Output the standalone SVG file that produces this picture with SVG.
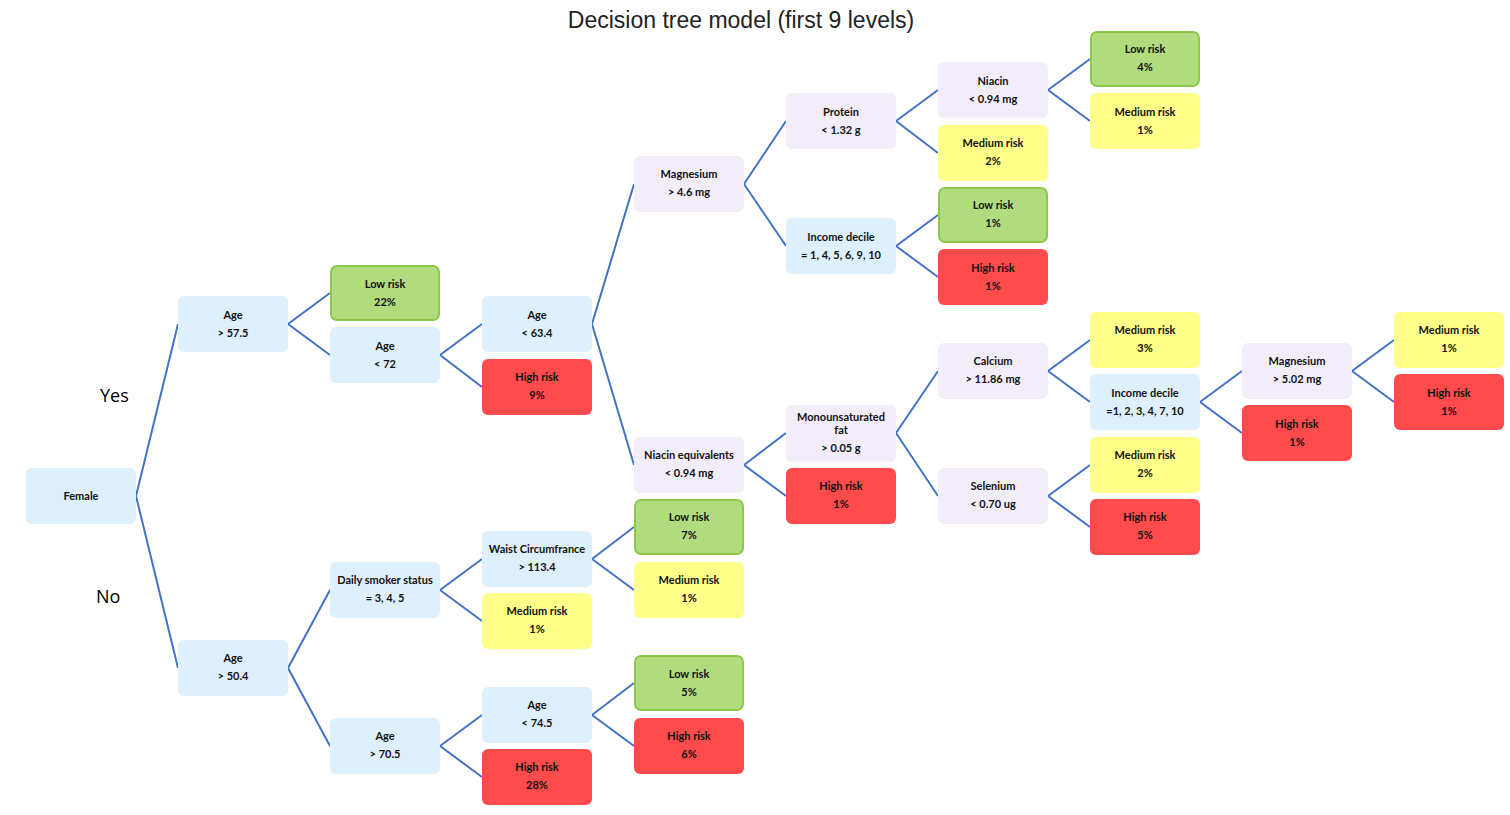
<svg xmlns="http://www.w3.org/2000/svg" width="1510" height="815" viewBox="0 0 1510 815">
<style>
.n rect{rx:6;ry:6}
.blue rect{fill:#DEF0FD}
.lav rect{fill:#F3EDFA}
.green rect{fill:#B0DC7E;stroke:#8CC84B;stroke-width:2}
.yel rect{fill:#FFFF8A}
.red rect{fill:#FF4B4B}
.n text{font-family:Lato,"Liberation Sans",sans-serif;font-weight:bold;font-size:11px;text-anchor:middle;fill:#111}
#connectors path{fill:none;stroke:#4472C4;stroke-width:2}
.lbl{font-family:"Open Sans","Liberation Sans",sans-serif;font-size:18px;fill:#000}
.title{font-family:"Liberation Sans",Arial,sans-serif;font-size:23px;fill:#222;text-anchor:middle}
</style>
<rect width="1510" height="815" fill="#fff"/>
<text class="title" x="741" y="28">Decision tree model (first 9 levels)</text>
<text class="lbl" x="100" y="402">Yes</text>
<text class="lbl" x="96" y="603">No</text>
<g id="connectors">
<path d="M136,496 L178,324 M136,496 L178,668"/>
<path d="M288,324 L330,293 M288,324 L330,355"/>
<path d="M440,355 L482,324 M440,355 L482,387"/>
<path d="M592,324 L634,184 M592,324 L634,465"/>
<path d="M744,184 L786,121 M744,184 L786,246"/>
<path d="M896,121 L938,90 M896,121 L938,153"/>
<path d="M1048,90 L1090,59 M1048,90 L1090,121"/>
<path d="M896,246 L938,215 M896,246 L938,277"/>
<path d="M744,465 L786,433 M744,465 L786,496"/>
<path d="M896,433 L938,371 M896,433 L938,496"/>
<path d="M1048,371 L1090,340 M1048,371 L1090,402"/>
<path d="M1200,402 L1242,371 M1200,402 L1242,433"/>
<path d="M1352,371 L1394,340 M1352,371 L1394,402"/>
<path d="M1048,496 L1090,465 M1048,496 L1090,527"/>
<path d="M288,668 L330,590 M288,668 L330,746"/>
<path d="M440,590 L482,559 M440,590 L482,621"/>
<path d="M592,559 L634,527 M592,559 L634,590"/>
<path d="M440,746 L482,715 M440,746 L482,777"/>
<path d="M592,715 L634,683 M592,715 L634,746"/>
</g>
<g id="female" class="n blue"><rect x="26" y="468" width="110" height="56"/><text x="81" y="500">Female</text></g>
<g id="age575" class="n blue"><rect x="178" y="296" width="110" height="56"/><text x="233" y="319">Age</text><text x="233" y="337">&gt; 57.5</text></g>
<g id="low22" class="n green"><rect x="331" y="266" width="108" height="54"/><text x="385" y="288">Low risk</text><text x="385" y="306">22%</text></g>
<g id="age72" class="n blue"><rect x="330" y="327" width="110" height="56"/><text x="385" y="350">Age</text><text x="385" y="368">&lt; 72</text></g>
<g id="age634" class="n blue"><rect x="482" y="296" width="110" height="56"/><text x="537" y="319">Age</text><text x="537" y="337">&lt; 63.4</text></g>
<g id="high9" class="n red"><rect x="482" y="359" width="110" height="56"/><text x="537" y="381">High risk</text><text x="537" y="399">9%</text></g>
<g id="magnesium46" class="n lav"><rect x="634" y="156" width="110" height="56"/><text x="689" y="178">Magnesium</text><text x="689" y="196">&gt; 4.6 mg</text></g>
<g id="niacineq" class="n lav"><rect x="634" y="437" width="110" height="56"/><text x="689" y="459">Niacin equivalents</text><text x="689" y="477">&lt; 0.94 mg</text></g>
<g id="protein" class="n lav"><rect x="786" y="93" width="110" height="56"/><text x="841" y="116">Protein</text><text x="841" y="134">&lt; 1.32 g</text></g>
<g id="income1" class="n blue"><rect x="786" y="218" width="110" height="56"/><text x="841" y="241">Income decile</text><text x="841" y="259">= 1, 4, 5, 6, 9, 10</text></g>
<g id="niacin" class="n lav"><rect x="938" y="62" width="110" height="56"/><text x="993" y="85">Niacin</text><text x="993" y="103">&lt; 0.94 mg</text></g>
<g id="med2a" class="n yel"><rect x="938" y="125" width="110" height="56"/><text x="993" y="147">Medium risk</text><text x="993" y="165">2%</text></g>
<g id="low4" class="n green"><rect x="1091" y="32" width="108" height="54"/><text x="1145" y="53">Low risk</text><text x="1145" y="71">4%</text></g>
<g id="med1a" class="n yel"><rect x="1090" y="93" width="110" height="56"/><text x="1145" y="116">Medium risk</text><text x="1145" y="134">1%</text></g>
<g id="low1" class="n green"><rect x="939" y="188" width="108" height="54"/><text x="993" y="209">Low risk</text><text x="993" y="227">1%</text></g>
<g id="high1a" class="n red"><rect x="938" y="249" width="110" height="56"/><text x="993" y="272">High risk</text><text x="993" y="290">1%</text></g>
<g id="mufa" class="n lav"><rect x="786" y="405" width="110" height="57"/><text x="841" y="421">Monounsaturated</text><text x="841" y="434">fat</text><text x="841" y="452">&gt; 0.05 g</text></g>
<g id="high1b" class="n red"><rect x="786" y="468" width="110" height="56"/><text x="841" y="490">High risk</text><text x="841" y="508">1%</text></g>
<g id="calcium" class="n lav"><rect x="938" y="343" width="110" height="56"/><text x="993" y="365">Calcium</text><text x="993" y="383">&gt; 11.86 mg</text></g>
<g id="selenium" class="n lav"><rect x="938" y="468" width="110" height="56"/><text x="993" y="490">Selenium</text><text x="993" y="508">&lt; 0.70 ug</text></g>
<g id="med3" class="n yel"><rect x="1090" y="312" width="110" height="56"/><text x="1145" y="334">Medium risk</text><text x="1145" y="352">3%</text></g>
<g id="income2" class="n blue"><rect x="1090" y="374" width="110" height="56"/><text x="1145" y="397">Income decile</text><text x="1145" y="415">=1, 2, 3, 4, 7, 10</text></g>
<g id="med2b" class="n yel"><rect x="1090" y="437" width="110" height="56"/><text x="1145" y="459">Medium risk</text><text x="1145" y="477">2%</text></g>
<g id="high5" class="n red"><rect x="1090" y="499" width="110" height="56"/><text x="1145" y="521">High risk</text><text x="1145" y="539">5%</text></g>
<g id="magnesium502" class="n lav"><rect x="1242" y="343" width="110" height="56"/><text x="1297" y="365">Magnesium</text><text x="1297" y="383">&gt; 5.02 mg</text></g>
<g id="high1c" class="n red"><rect x="1242" y="405" width="110" height="56"/><text x="1297" y="428">High risk</text><text x="1297" y="446">1%</text></g>
<g id="med1b" class="n yel"><rect x="1394" y="312" width="110" height="56"/><text x="1449" y="334">Medium risk</text><text x="1449" y="352">1%</text></g>
<g id="high1d" class="n red"><rect x="1394" y="374" width="110" height="56"/><text x="1449" y="397">High risk</text><text x="1449" y="415">1%</text></g>
<g id="age504" class="n blue"><rect x="178" y="640" width="110" height="56"/><text x="233" y="662">Age</text><text x="233" y="680">&gt; 50.4</text></g>
<g id="smoker" class="n blue"><rect x="330" y="562" width="110" height="56"/><text x="385" y="584">Daily smoker status</text><text x="385" y="602">= 3, 4, 5</text></g>
<g id="age705" class="n blue"><rect x="330" y="718" width="110" height="56"/><text x="385" y="740">Age</text><text x="385" y="758">&gt; 70.5</text></g>
<g id="waist" class="n blue"><rect x="482" y="531" width="110" height="56"/><text x="537" y="553">Waist Circumfrance</text><text x="537" y="571">&gt; 113.4</text></g>
<g id="med1c" class="n yel"><rect x="482" y="593" width="110" height="56"/><text x="537" y="615">Medium risk</text><text x="537" y="633">1%</text></g>
<g id="age745" class="n blue"><rect x="482" y="687" width="110" height="56"/><text x="537" y="709">Age</text><text x="537" y="727">&lt; 74.5</text></g>
<g id="high28" class="n red"><rect x="482" y="749" width="110" height="56"/><text x="537" y="771">High risk</text><text x="537" y="789">28%</text></g>
<g id="low7" class="n green"><rect x="635" y="500" width="108" height="54"/><text x="689" y="521">Low risk</text><text x="689" y="539">7%</text></g>
<g id="med1d" class="n yel"><rect x="634" y="562" width="110" height="56"/><text x="689" y="584">Medium risk</text><text x="689" y="602">1%</text></g>
<g id="low5" class="n green"><rect x="635" y="656" width="108" height="54"/><text x="689" y="678">Low risk</text><text x="689" y="696">5%</text></g>
<g id="high6" class="n red"><rect x="634" y="718" width="110" height="56"/><text x="689" y="740">High risk</text><text x="689" y="758">6%</text></g>
</svg>
